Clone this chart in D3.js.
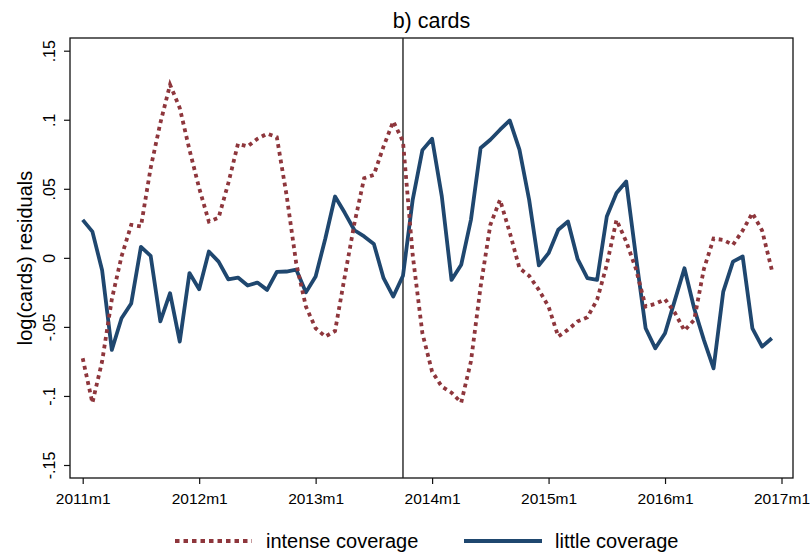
<!DOCTYPE html>
<html><head><meta charset="utf-8">
<script src="https://cdn.jsdelivr.net/npm/d3@7"></script>
<style>html,body{margin:0;padding:0;background:#fff;} svg{display:block;font-family:"Liberation Sans",Arial,Helvetica,sans-serif;}</style>
</head><body>
<script>
// months since 2011m1 (0 = 2011m1 ... 71 = 2016m12)
const months = d3.range(0, 72);
const intense = [
 -0.0727,-0.105,-0.075,-0.030,0.001,0.0239,0.0227,0.065,0.0976,0.1254,0.1085,0.0783,
 0.0505,0.0263,0.029,0.054,0.0826,0.0807,0.0862,0.0899,0.0874,0.0457,-0.004,-0.0353,
 -0.051,-0.057,-0.053,-0.0135,0.0251,0.0577,0.0601,0.0807,0.0988,0.0843,0.002,-0.0546,
 -0.0824,-0.0932,-0.0976,-0.1048,-0.075,-0.0208,0.0239,0.042,0.0184,-0.0075,-0.013,-0.0232,
 -0.0353,-0.057,-0.052,-0.046,-0.043,-0.0304,-0.005,0.0275,0.0118,-0.008,-0.0353,-0.0333,
 -0.030,-0.0396,-0.0527,-0.045,-0.0082,0.014,0.013,0.0094,0.0198,0.0324,0.0198,-0.0087
];
const little = [
 0.0275,0.019,-0.009,-0.0667,-0.0437,-0.033,0.008,0.0015,-0.046,-0.0256,-0.0606,-0.011,
 -0.0227,0.0046,-0.0027,-0.0155,-0.0143,-0.020,-0.0179,-0.0232,-0.0101,-0.0099,-0.0085,-0.025,
 -0.0135,0.014,0.0444,0.0326,0.020,0.0155,0.0101,-0.0147,-0.028,-0.013,0.042,0.078,
 0.0862,0.0445,-0.016,-0.005,0.0275,0.0795,0.0855,0.0928,0.0995,0.0783,0.042,-0.0055,
 0.0034,0.0203,0.0263,-0.001,-0.0147,-0.016,0.030,0.0469,0.0553,0.001,-0.051,-0.0655,
 -0.0546,-0.031,-0.0075,-0.0365,-0.0594,-0.080,-0.0244,-0.0027,0.001,-0.051,-0.0643,-0.0582
];
const xTickValues = [0, 12, 24, 36, 48, 60, 72];
const xTickLabels = ["2011m1","2012m1","2013m1","2014m1","2015m1","2016m1","2017m1"];
const yTickValues = [-0.15, -0.1, -0.05, 0, 0.05, 0.1, 0.15];
const yTickLabels = ["-.15","-.1","-.05","0",".05",".1",".15"];
const eventMonth = 33; // 2013m10
const seriesNames = ["intense coverage", "little coverage"];
const titleText = "b) cards";
const yTitle = "log(cards) residuals";

const W = 810, H = 553;
const frame = {left: 70, right: 793, top: 38, bottom: 478};
const blue = "#1f476f", red = "#8e363c";

const svg = d3.select("body").append("svg").attr("width", W).attr("height", H);

const x = d3.scaleLinear().domain([0, 72]).range([82.7, 781.5]);
const y = d3.scaleLinear().domain([-0.15, 0.15]).range([465, 50.7]);

// frame
svg.append("rect").attr("x", frame.left).attr("y", frame.top)
  .attr("width", frame.right - frame.left).attr("height", frame.bottom - frame.top)
  .attr("fill", "none").attr("stroke", "#111").attr("stroke-width", 1.3);

// axes
const yAxis = d3.axisLeft(y).tickValues(yTickValues).tickSize(6)
  .tickFormat((d, i) => yTickLabels[i]);
const gy = svg.append("g").attr("transform", `translate(${frame.left},0)`).call(yAxis);
gy.select(".domain").remove();
gy.selectAll(".tick line").attr("stroke", "#111").attr("stroke-width", 1.2);
gy.selectAll(".tick text")
  .attr("font-size", 16).attr("fill", "#000")
  .attr("transform", "rotate(-90)")
  .attr("x", 0).attr("y", -15).attr("dy", 0)
  .attr("text-anchor", "middle");

const xAxis = d3.axisBottom(x).tickValues(xTickValues).tickSize(6)
  .tickFormat((d, i) => xTickLabels[i]);
const gx = svg.append("g").attr("transform", `translate(0,${frame.bottom})`).call(xAxis);
gx.select(".domain").remove();
gx.selectAll(".tick line").attr("stroke", "#111").attr("stroke-width", 1.2);
gx.selectAll(".tick text").attr("font-size", 15.5).attr("fill", "#000")
  .attr("y", 26).attr("dy", 0);

// event line
svg.append("line").attr("x1", x(eventMonth)).attr("x2", x(eventMonth))
  .attr("y1", frame.top).attr("y2", frame.bottom)
  .attr("stroke", "#222").attr("stroke-width", 1.4);

const line = d3.line().x((d, i) => x(months[i])).y(d => y(d));

svg.append("path").datum(little).attr("d", line)
  .attr("fill", "none").attr("stroke", blue).attr("stroke-width", 3.8)
  .attr("stroke-linejoin", "round");
svg.append("path").datum(intense).attr("d", line)
  .attr("fill", "none").attr("stroke", red).attr("stroke-width", 3.8)
  .attr("stroke-dasharray", "3.8,4");

// title
svg.append("text").attr("x", (frame.left + frame.right) / 2).attr("y", 28)
  .attr("text-anchor", "middle").attr("font-size", 21.5).text(titleText);

// y title
svg.append("text").attr("transform", `translate(32,${(frame.top + frame.bottom) / 2}) rotate(-90)`)
  .attr("text-anchor", "middle").attr("font-size", 20).text(yTitle);

// legend
const ly = 541;
const leg = [
  {x0: 175, x1: 252, tx: 266, color: red, dash: "4.5,4", name: seriesNames[0]},
  {x0: 464, x1: 542, tx: 555, color: blue, dash: null, name: seriesNames[1]}
];
leg.forEach(l => {
  const ln = svg.append("line").attr("x1", l.x0).attr("x2", l.x1).attr("y1", ly).attr("y2", ly)
    .attr("stroke", l.color).attr("stroke-width", 3.8);
  if (l.dash) ln.attr("stroke-dasharray", l.dash);
  svg.append("text").attr("x", l.tx).attr("y", ly + 7).attr("font-size", 20).text(l.name);
});
</script>
</body></html>
